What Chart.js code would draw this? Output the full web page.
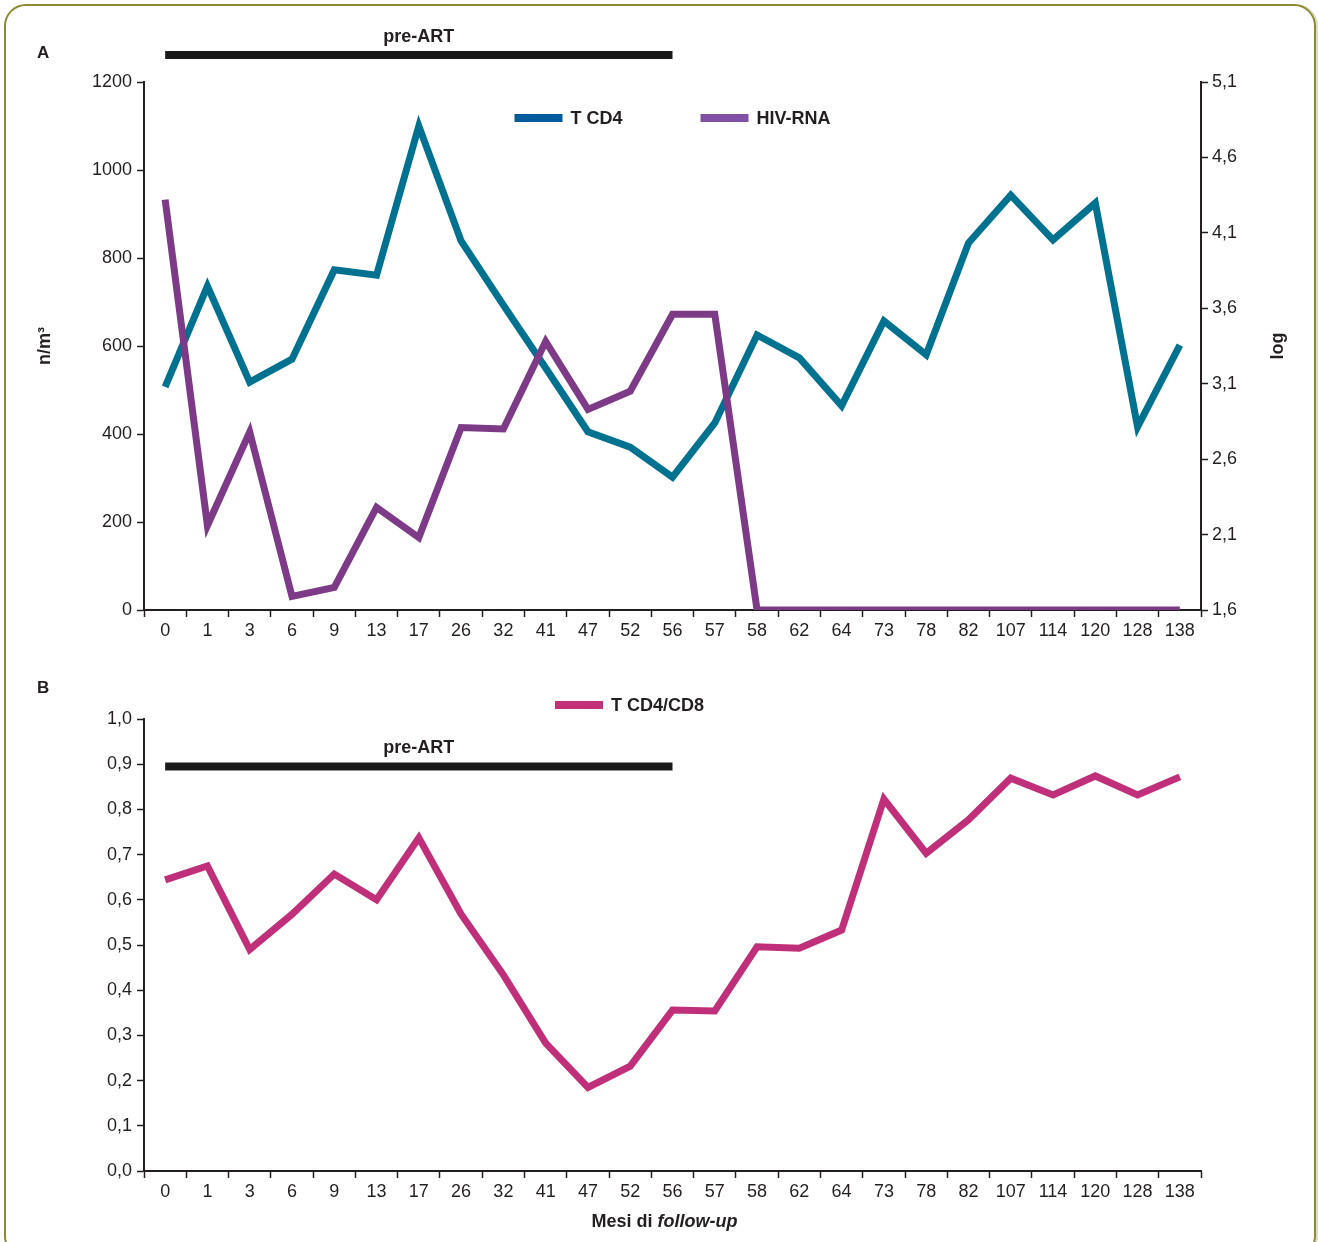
<!DOCTYPE html>
<html>
<head>
<meta charset="utf-8">
<script src="https://cdn.jsdelivr.net/npm/chart.js@4.4.1/dist/chart.umd.min.js"></script>
<style>
  html, body { margin: 0; padding: 0; background: #fff; }
  body { width: 1318px; height: 1242px; position: relative; overflow: hidden; }
  #frame { position: absolute; left: 4px; top: 4px; width: 1308px; height: 1250px;
           border: 2px solid #8e8a30; border-radius: 22px; box-shadow: 2px 0 0 #dcdcd4; }
  #canvasA { position: absolute; left: 0; top: 0; }
  #canvasB { position: absolute; left: 0; top: 660px; }
</style>
</head>
<body>
<div id="frame"></div>
<canvas id="canvasA" width="1318" height="660"></canvas>
<canvas id="canvasB" width="1318" height="582"></canvas>
<script>
// months of follow-up (shared x categories)
var months = ['0', '1', '3', '6', '9', '13', '17', '26', '32', '41', '47', '52', '56',
              '57', '58', '62', '64', '73', '78', '82', '107', '114', '120', '128', '138'];

// panel A: T CD4 count (n/m3, left axis) and HIV-RNA (log, right axis)
var cd4 = [507, 736, 518, 570, 773, 761, 1100, 839, 693, 550, 405, 370, 302,
           425, 625, 573, 464, 657, 580, 834, 943, 841, 925, 416, 602];
var hivRna = [4.32, 2.16, 2.78, 1.69, 1.75, 2.28, 2.08, 2.81, 2.80, 3.38, 2.93, 3.05, 3.56,
              3.56, 1.6, 1.6, 1.6, 1.6, 1.6, 1.6, 1.6, 1.6, 1.6, 1.6, 1.6];

// panel B: T CD4/CD8 ratio
var ratio = [0.644, 0.675, 0.49, 0.568, 0.657, 0.60, 0.737, 0.568, 0.434, 0.283, 0.185, 0.232, 0.356,
             0.354, 0.496, 0.493, 0.533, 0.823, 0.703, 0.777, 0.869, 0.832, 0.874, 0.832, 0.872];

var cd4Ticks = [0, 200, 400, 600, 800, 1000, 1200];
var logTicks = [1.6, 2.1, 2.6, 3.1, 3.6, 4.1, 4.6, 5.1];
var ratioTicks = [0, 0.1, 0.2, 0.3, 0.4, 0.5, 0.6, 0.7, 0.8, 0.9, 1.0];

var preArtFrom = '0', preArtTo = '56';
var preArtRatio = 0.895;

var FONT = "'Liberation Sans Narrow', 'Liberation Sans', Arial, sans-serif";
var INK = '#231f20';
Chart.defaults.font.family = FONT;
Chart.defaults.font.size = 18;
Chart.defaults.color = INK;

function comma(v) { return Number(v).toFixed(1).replace('.', ','); }
function plain(v) { return String(v); }
function setTicks(list) {
    return function(scale) { scale.ticks = list.map(function(v) { return { value: v }; }); };
}

// pre-ART bar, legend, panel letter and axis texts
var annotations = {
    id: 'annotations',
    afterDatasetsDraw: function(chart, args, opts) {
        var ctx = chart.ctx, area = chart.chartArea, x = chart.scales.x;
        var bold = 'bold 18px ' + FONT;
        ctx.save();
        // pre-ART bar
        var x0 = x.getPixelForValue(months.indexOf(preArtFrom));
        var x1 = x.getPixelForValue(months.indexOf(preArtTo));
        var yb = opts.barValue != null ? chart.scales.y.getPixelForValue(opts.barValue) : area.top - opts.barAbove;
        ctx.strokeStyle = '#1a1a1a';
        ctx.lineWidth = 8;
        ctx.beginPath();
        ctx.moveTo(x0, yb);
        ctx.lineTo(x1, yb);
        ctx.stroke();
        ctx.fillStyle = INK;
        ctx.font = bold;
        ctx.textAlign = 'center';
        ctx.textBaseline = 'middle';
        ctx.fillText('pre-ART', (x0 + x1) / 2, yb - 18);

        // legend
        var items = opts.legend;
        var total = 0;
        items.forEach(function(it, i) {
            it.w = 48 + 8 + ctx.measureText(it.text).width;
            total += it.w + (i ? 78 : 0);
        });
        var lx = (area.left + area.right) / 2 + opts.legendShift - total / 2;
        var ly = area.top + opts.legendY;
        ctx.textAlign = 'left';
        items.forEach(function(it) {
            ctx.fillStyle = it.color;
            ctx.fillRect(lx, ly - 4, 48, 8);
            ctx.fillStyle = INK;
            ctx.fillText(it.text, lx + 56, ly + 1);
            lx += it.w + 78;
        });

        // panel letter
        ctx.font = 'bold 17px ' + FONT;
        ctx.fillText(opts.letter, 37, opts.letterY);

        // right axis title
        if (opts.rightTitle) {
            ctx.save();
            ctx.translate(1278, (area.top + area.bottom) / 2);
            ctx.rotate(-Math.PI / 2);
            ctx.textAlign = 'center';
            ctx.font = bold;
            ctx.fillText(opts.rightTitle, 0, 0);
            ctx.restore();
        }

        // x axis title, with italic part
        if (opts.xTitle) {
            var a = 'Mesi di ', b = 'follow-up';
            var italic = 'italic bold 18px ' + FONT;
            ctx.font = bold;
            var wa = ctx.measureText(a).width;
            ctx.font = italic;
            var wb = ctx.measureText(b).width;
            var sx = (area.left + area.right) / 2 - 8 - (wa + wb) / 2;
            ctx.textAlign = 'left';
            ctx.font = bold;
            ctx.fillText(a, sx, opts.xTitle);
            ctx.font = italic;
            ctx.fillText(b, sx + wa, opts.xTitle);
        }
        ctx.restore();
    }
};

function xAxis(height) {
    return {
        type: 'category',
        offset: true,
        grid: { offset: true, drawOnChartArea: false, tickLength: 7, tickColor: INK, tickWidth: 1.5 },
        border: { color: INK, width: 2 },
        ticks: { color: INK, padding: 3, maxRotation: 0, autoSkip: false },
        afterFit: function(s) { s.height = height; }
    };
}

window.onload = function() {
    var ctxA = document.getElementById('canvasA').getContext('2d');
    window.chartA = new Chart(ctxA, {
        type: 'line',
        data: {
            labels: months,
            datasets: [{
                label: 'HIV-RNA',
                data: hivRna,
                yAxisID: 'y1',
                borderColor: '#7d3a86',
                borderWidth: 7,
                pointRadius: 0,
                tension: 0
            }, {
                label: 'T CD4',
                data: cd4,
                yAxisID: 'y',
                borderColor: '#00728f',
                borderWidth: 7,
                pointRadius: 0,
                tension: 0
            }]
        },
        plugins: [annotations],
        options: {
            responsive: false,
            animation: false,
            layout: { padding: { top: 82, left: 0, right: 0, bottom: 0 } },
            plugins: {
                legend: { display: false },
                tooltip: { enabled: false },
                annotations: {
                    barAbove: 27,
                    legend: [{ text: 'T CD4', color: '#005c9c' }, { text: 'HIV-RNA', color: '#8050a6' }],
                    legendShift: 0,
                    legendY: 36,
                    letter: 'A',
                    letterY: 53,
                    rightTitle: 'log'
                }
            },
            scales: {
                x: xAxis(50),
                y: {
                    position: 'left',
                    min: 0,
                    max: 1200,
                    afterBuildTicks: setTicks(cd4Ticks),
                    grid: { drawOnChartArea: false, tickLength: 7, tickColor: INK, tickWidth: 1.5 },
                    border: { color: INK, width: 2 },
                    ticks: { color: INK, padding: 5, callback: plain },
                    title: { display: true, text: 'n/m³', color: INK, font: { weight: 'bold', size: 18 }, padding: { top: 34, bottom: 0 } },
                    afterFit: function(s) { s.width = 144; }
                },
                y1: {
                    position: 'right',
                    min: 1.6,
                    max: 5.1,
                    afterBuildTicks: setTicks(logTicks),
                    grid: { drawOnChartArea: false, tickLength: 7, tickColor: INK, tickWidth: 1.5 },
                    border: { color: INK, width: 2 },
                    ticks: { color: INK, padding: 4, callback: comma },
                    afterFit: function(s) { s.width = 117; }
                }
            }
        }
    });

    var ctxB = document.getElementById('canvasB').getContext('2d');
    window.chartB = new Chart(ctxB, {
        type: 'line',
        data: {
            labels: months,
            datasets: [{
                label: 'T CD4/CD8',
                data: ratio,
                borderColor: '#c0307a',
                borderWidth: 7,
                pointRadius: 0,
                tension: 0
            }]
        },
        plugins: [annotations],
        options: {
            responsive: false,
            animation: false,
            layout: { padding: { top: 59, left: 0, right: 117, bottom: 0 } },
            plugins: {
                legend: { display: false },
                tooltip: { enabled: false },
                annotations: {
                    barValue: preArtRatio,
                    legend: [{ text: 'T CD4/CD8', color: '#c23278' }],
                    legendShift: -43,
                    legendY: -14,
                    letter: 'B',
                    letterY: 28,
                    xTitle: 562
                }
            },
            scales: {
                x: xAxis(71),
                y: {
                    position: 'left',
                    min: 0,
                    max: 1,
                    afterBuildTicks: setTicks(ratioTicks),
                    grid: { drawOnChartArea: false, tickLength: 7, tickColor: INK, tickWidth: 1.5 },
                    border: { color: INK, width: 2 },
                    ticks: { color: INK, padding: 5, callback: comma },
                    afterFit: function(s) { s.width = 144; }
                }
            }
        }
    });
};
</script>
</body>
</html>
